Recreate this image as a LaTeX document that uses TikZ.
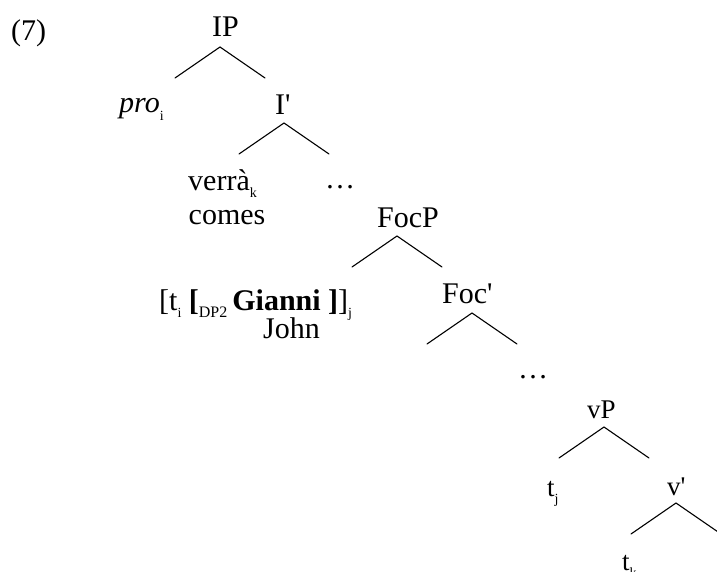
\documentclass[tikz,border=0pt]{standalone}
\usepackage{fontspec}
\setmainfont{Liberation Serif}[Ligatures=TeXOff]
\usetikzlibrary{calc}
% small lowered index letters (traces, indices)
\newcommand\lsub[1]{\raisebox{-0.26em}{\fontsize{14}{15}\selectfont #1}}
\newcommand\lsubB[1]{\raisebox{-0.26em}{\fontsize{16}{17}\selectfont #1}}
\tikzset{
  lbl/.style={inner sep=0pt, anchor=base west, font=\fontsize{30}{32}\selectfont},
  lblsmall/.style={inner sep=0pt, anchor=base west, font=\fontsize{27}{29}\selectfont},
  branch/.style={line width=1.1pt, line cap=round}
}
% a binary branch: apex at (#2,#3), legs 45 wide and 31 deep
\newcommand\branchat[3]{%
  \coordinate (#1-a) at (#2,#3);
  \coordinate (#1-l) at ($(#2,#3)+(-45,31)$);
  \coordinate (#1-r) at ($(#2,#3)+(45,31)$);
  \draw[branch] (#1-l) -- (#1-a) -- (#1-r);
}
\begin{document}
\begin{tikzpicture}[x=1pt,y=-1pt]
\useasboundingbox (0,0) rectangle (717,572);
\clip (0,0) rectangle (717,572);

% example number
\node[lbl] (num) at (11,41) {(7)};

% IP
\node[lbl] (ip) at (212,37) {IP};
\branchat{ip}{220}{47}
\node[lbl] (pro) at (119,113) {\itshape pro\/\upshape\lsub{i}};
\node[lbl] (ibar) at (275,115) {I'};
\branchat{ibar}{284}{123}
\node[lbl] (verra) at (188,190) {verrà\lsub{k}};
\node[lbl, anchor=base] (comes) at (227,224) {comes};
\node[lbl] (dots1) at (325,189) {\ldots};

% FocP
\node[lbl] (focp) at (377,227) {FocP};
\branchat{focp}{397}{236}
\node[lbl] (spec) at (159,310) {[t\lsub{i} \textbf{[}\lsubB{DP2}\,\textbf{Gianni ]}]\lsub{j}};
\node[lbl] (john) at (263,338) {John};
\node[lbl] (focbar) at (442,303) {Foc'};
\branchat{focbar}{472}{313}
\node[lbl] (dots2) at (518,378) {\ldots};

% vP
\node[lblsmall] (vp) at (587,418) {vP};
\branchat{vp}{604}{427}
\node[lblsmall] (tj) at (547,496) {t\lsub{j}};
\node[lblsmall] (vbar) at (667,495) {v'};
\branchat{vbar}{676}{503}
\node[lblsmall] (tk) at (622,570) {t\lsub{k}};
\end{tikzpicture}
\end{document}
